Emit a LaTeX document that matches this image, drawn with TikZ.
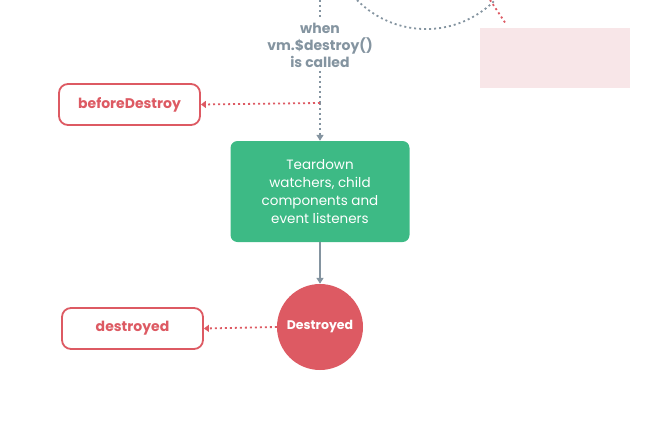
\documentclass[tikz,border=0pt]{standalone}
\usepackage{fontspec}
\setmainfont{Poppins}
\usetikzlibrary{positioning,arrows.meta}
\definecolor{vuegreen}{HTML}{3DBA85}
\definecolor{vuered}{HTML}{DD5A63}
\definecolor{vuegrey}{HTML}{8494A0}
\definecolor{blurpink}{HTML}{F8E6E8}

\begin{document}
\begin{tikzpicture}[x=1pt, y=-1pt,
					hook/.style={rectangle, rounded corners=9pt, draw=vuered, line width=1.8pt, fill=white, minimum width=141pt, minimum height=41pt, text=vuered, font=\fontsize{14}{16}\selectfont\bfseries},
					stage/.style={rectangle, rounded corners=7pt, fill=vuegreen, minimum width=179pt, minimum height=101pt, text=white, align=center, font=\fontsize{13.5}{18}\selectfont},
					state/.style={circle, fill=vuered, minimum size=86pt, inner sep=0pt, text=white, font=\fontsize{12.5}{14}\selectfont\bfseries},
					cond/.style={align=center, text=vuegrey, font=\fontsize{14}{17}\selectfont\bfseries},
					flow/.style={vuegrey, line width=1.8pt, dash pattern=on 2pt off 3pt},
					hookline/.style={vuered, line width=1.8pt, dash pattern=on 2pt off 3pt}
				]
				\useasboundingbox (0,0) rectangle (646,445);
				\node[cond] (when) at (320,45) {when\\vm.\$destroy()\\is called};
				\node[stage] (teardown) at (320,191.5) {Teardown\\watchers, child\\components and\\event listeners};
				\node[state] (destroyedstate) at (320,327) {Destroyed};
				\node[hook] (beforedestroy) at (129.5,104.5) {beforeDestroy};
				\node[hook] (destroyed) at (132.5,328.5) {destroyed};
				\coordinate (top) at (320,0);
				\coordinate (split) at (320,103);
				\coordinate (arcleft) at (357,0);
				\coordinate (arcright) at (490,0);
				\coordinate (blurtip) at (506,24);
				\node[rectangle, fill=blurpink, minimum width=150pt, minimum height=60pt] (blurred) at (555,58) {};
				% grey dashed flow
				\draw[flow] (top) -- (when.north);
				\draw[flow] (when.south) -- (split);
				\draw[flow, -{Triangle[length=6pt, width=7pt]}] (split) -- (teardown.north);
				\draw[vuegrey, line width=1.8pt, -{Triangle[length=6pt, width=7pt]}] (teardown.south) -- (destroyedstate.north);
				% arc of the previous loop
				\draw[flow] (arcleft) arc[start angle=135.6, end angle=44.4, radius=96.7];
				% red hook lines
				\begin{scope}[hookline, -{Triangle[length=5pt, width=7pt]}]
				\draw (split) -- (beforedestroy.east);
				\draw (destroyedstate.west) -- (destroyed.east);
				\end{scope}
				\draw[hookline] (arcright) -- (blurtip);
				\end{tikzpicture}
\end{document}
